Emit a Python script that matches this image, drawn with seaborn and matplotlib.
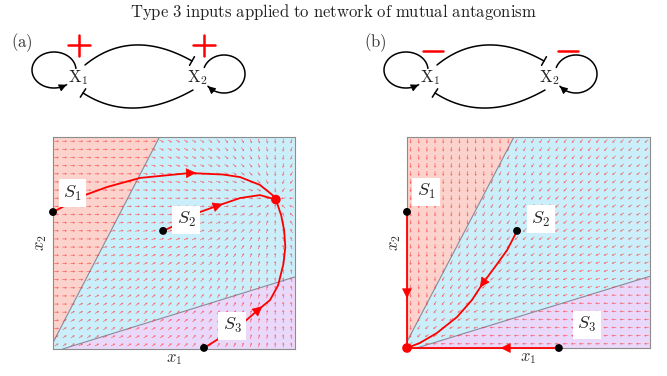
import numpy as np
import matplotlib
matplotlib.use('Agg')
import matplotlib.pyplot as plt
import seaborn as sns
from matplotlib.patches import Polygon

sns.set_theme(style='white')
plt.rcParams['mathtext.fontset'] = 'cm'
plt.rcParams['font.family'] = ['DejaVu Serif']

# ---------------- data ----------------
title = r'$\mathrm{Type\ 3\ inputs\ applied\ to\ network\ of\ mutual\ antagonism}$'
panel_tags = [r'$\mathrm{(a)}$', r'$\mathrm{(b)}$']
node_labels = [r'$\mathrm{X}_1$', r'$\mathrm{X}_2$']
start_labels = [r'$S_1$', r'$S_2$', r'$S_3$']

fp_a = [0.921, 0.705]   # stable point, panel (a)
fp_b = [0.0, 0.0]       # stable point, panel (b)

bnd1_x = [0.0, 0.44]
bnd1_y = [0.03, 1.0]
bnd2_x = [0.04, 1.0]
bnd2_y = [0.0, 0.34]

# trajectories panel (a)
s1a_x = [0.0, 0.132, 0.223, 0.36, 0.566, 0.702, 0.773, 0.855, 0.905, 0.921]
s1a_y = [0.646, 0.726, 0.764, 0.807, 0.830, 0.823, 0.811, 0.774, 0.728, 0.705]
s2a_x = [0.455, 0.525, 0.607, 0.678, 0.773, 0.855, 0.921]
s2a_y = [0.557, 0.594, 0.646, 0.675, 0.712, 0.726, 0.705]
s3a_x = [0.624, 0.69, 0.80, 0.847, 0.897, 0.930, 0.952, 0.960, 0.955, 0.943, 0.921]
s3a_y = [0.005, 0.052, 0.137, 0.184, 0.231, 0.300, 0.400, 0.481, 0.561, 0.630, 0.705]
arrows_a = [4, 3, 3]

# trajectories panel (b)
s1b_x = [0.0, 0.0, 0.0]
s1b_y = [0.645, 0.26, 0.0]
s2b_x = [0.453, 0.412, 0.362, 0.313, 0.267, 0.206, 0.123, 0.053, 0.0]
s2b_y = [0.555, 0.464, 0.384, 0.308, 0.227, 0.147, 0.071, 0.024, 0.0]
s3b_x = [0.625, 0.41, 0.0]
s3b_y = [0.0, 0.0, 0.0]
arrows_b = [1, 3, 1]

lab_a_x = [0.08, 0.55, 0.74]
lab_a_y = [0.735, 0.61, 0.11]
lab_b_x = [0.078, 0.55, 0.74]
lab_b_y = [0.74, 0.61, 0.11]

c_red, c_blue, c_purple = '#fcd2cc', '#cbeffa', '#ead8fa'

# ---------------- figure ----------------
W, H = 667, 376
fig = plt.figure(figsize=(W / 100, H / 100), dpi=100)
axA = fig.add_axes([53 / W, 27 / H, 242 / W, 212 / H])
axB = fig.add_axes([407 / W, 28 / H, 243 / W, 211 / H])


def above1(x, y):
    return y > bnd1_y[0] + (x - bnd1_x[0]) * (bnd1_y[1] - bnd1_y[0]) / (bnd1_x[1] - bnd1_x[0])


def below2(x, y):
    return y < bnd2_y[0] + (x - bnd2_x[0]) * (bnd2_y[1] - bnd2_y[0]) / (bnd2_x[1] - bnd2_x[0])


def field_a(X, Y):
    U = fp_a[0] - X
    V = fp_a[1] - Y
    red = above1(X, Y)
    pur = below2(X, Y)
    V = np.where(red, 0.0, V)
    U = np.where(red, np.abs(U) + 0.05, U)
    V = np.where(pur, 0.6 * V, V)
    return U, V


def field_b(X, Y):
    U = fp_b[0] - X
    V = fp_b[1] - Y
    red = above1(X, Y)
    pur = below2(X, Y)
    U = np.where(red, 0.0, U)
    V = np.where(red, -1.0, V)
    U = np.where(pur, -1.0, U)
    V = np.where(pur, 0.0, V)
    return U, V


def setup(ax, field, wpx, hpx):
    ax.set_xlim(0, 1)
    ax.set_ylim(0, 1)
    ax.set_xticks([])
    ax.set_yticks([])
    for s in ax.spines.values():
        s.set_color('#8c8c8c')
        s.set_linewidth(0.8)
    ax.add_patch(Polygon([[0, 0], [0, 1], [1, 1], [1, 0]], closed=True, fc=c_blue, ec='none', zorder=0))
    ax.add_patch(Polygon([[bnd1_x[0], bnd1_y[0]], [bnd1_x[1], bnd1_y[1]], [0, 1]], closed=True,
                         fc=c_red, ec='none', zorder=0.5))
    ax.add_patch(Polygon([[bnd2_x[0], bnd2_y[0]], [bnd2_x[1], bnd2_y[1]], [1, 0]], closed=True,
                         fc=c_purple, ec='none', zorder=0.5))
    ax.plot(bnd1_x, bnd1_y, color='#8a8a9a', lw=0.8, zorder=1)
    ax.plot(bnd2_x, bnd2_y, color='#8a8a9a', lw=0.8, zorder=1)
    gx = np.linspace(0.015, 0.985, 30)
    gy = np.linspace(0.02, 0.98, 26)
    X, Y = np.meshgrid(gx, gy)
    U, V = field(X, Y)
    Up, Vp = U * wpx, V * hpx
    n = np.hypot(Up, Vp)
    n[n == 0] = 1
    L = 4.8
    U2 = Up / n * L / wpx
    V2 = Vp / n * L / hpx
    ax.quiver(X, Y, U2, V2, angles='xy', scale_units='xy', scale=1, pivot='mid',
              color='#ff2a2a', alpha=0.7, units='dots', width=0.65,
              headwidth=3.5, headlength=3.5, headaxislength=3, zorder=2)
    ax.set_xlabel(r'$x_1$', fontsize=12, labelpad=1, color='#333333')
    ax.set_ylabel(r'$x_2$', fontsize=12, labelpad=3, color='#333333')


def traj(ax, xs, ys, k):
    sns.lineplot(x=xs, y=ys, sort=False, estimator=None, color='red', lw=1.3, ax=ax, zorder=4)
    ax.lines[-1].set_clip_on(False)
    x0, y0 = xs[k - 1], ys[k - 1]
    x1, y1 = xs[k], ys[k]
    x2, y2 = xs[k + 1], ys[k + 1]
    dx, dy = x2 - x0, y2 - y0
    nrm = np.hypot(dx, dy)
    dx, dy = dx / nrm, dy / nrm
    ax.annotate('', xy=(x1 + 0.025 * dx, y1 + 0.025 * dy), xytext=(x1 - 0.02 * dx, y1 - 0.02 * dy),
                arrowprops=dict(arrowstyle='-|>', color='red', mutation_scale=16, lw=0.5,
                                shrinkA=0, shrinkB=0), zorder=5, annotation_clip=False)


setup(axA, field_a, 242, 212)
setup(axB, field_b, 243, 211)

for xs, ys, k in zip([s1a_x, s2a_x, s3a_x], [s1a_y, s2a_y, s3a_y], arrows_a):
    traj(axA, xs, ys, k)
for xs, ys, k in zip([s1b_x, s2b_x, s3b_x], [s1b_y, s2b_y, s3b_y], arrows_b):
    traj(axB, xs, ys, k)

for ax, sx, sy, fp, lx, ly in [
        (axA, [s1a_x[0], s2a_x[0], s3a_x[0]], [s1a_y[0], s2a_y[0], s3a_y[0]], fp_a, lab_a_x, lab_a_y),
        (axB, [s1b_x[0], s2b_x[0], s3b_x[0]], [s1b_y[0], s2b_y[0], s3b_y[0]], fp_b, lab_b_x, lab_b_y)]:
    sns.scatterplot(x=sx, y=sy, color='black', s=32, edgecolor='none', ax=ax, zorder=6)
    sns.scatterplot(x=[fp[0]], y=[fp[1]], color='red', s=48, edgecolor='none', ax=ax, zorder=7)
    for c in ax.collections:
        c.set_clip_on(False)
    for t, x, y in zip(start_labels, lx, ly):
        ax.text(x, y, t, fontsize=13, ha='center', va='center', zorder=8,
                bbox=dict(boxstyle='square,pad=0.25', fc='white', ec='none'))
    ax.set_xlim(0, 1)
    ax.set_ylim(0, 1)

# ---------------- overlay: title and network sketches ----------------
ax0 = fig.add_axes([0, 0, 1, 1])
ax0.set_xlim(0, W)
ax0.set_ylim(H, 0)
ax0.axis('off')
ax0.patch.set_alpha(0)

ax0.text(W / 2, 12, title, fontsize=12, ha='center', va='center', color='#222222')
ax0.text(22, 43, panel_tags[0], fontsize=12, ha='center', va='center', color='#333333')
ax0.text(375, 43, panel_tags[1], fontsize=12, ha='center', va='center', color='#333333')


def bezier(P0, C, P2):
    t = np.linspace(0, 1, 60)[:, None]
    return (1 - t) ** 2 * np.array(P0) + 2 * (1 - t) * t * np.array(C) + t ** 2 * np.array(P2)


def tbar(ax, P, C, half=5):
    d = np.array(P) - np.array(C)
    d = d / np.hypot(*d)
    p = np.array([-d[1], d[0]])
    a = np.array(P) + p * half
    b = np.array(P) - p * half
    ax.plot([a[0], b[0]], [a[1], b[1]], color='black', lw=1.1)


def loop(ax, cx, cy, rx, ry, a0, a1):
    th = np.radians(np.linspace(a0, a1, 120))
    x = cx + rx * np.cos(th)
    y = cy - ry * np.sin(th)
    ax.plot(x, y, color='black', lw=1.1)
    ax.annotate('', xy=(x[-1], y[-1]), xytext=(x[-6], y[-6]),
                arrowprops=dict(arrowstyle='-|>', color='black', mutation_scale=11, lw=0.8,
                                shrinkA=0, shrinkB=0))


def network(ax, dx, positive):
    ax.text(78 + dx, 78, node_labels[0], fontsize=12, ha='center', va='center', color='#222222')
    ax.text(197 + dx, 78, node_labels[1], fontsize=12, ha='center', va='center', color='#222222')
    up = bezier((85 + dx, 65), (131.5 + dx, 27), (192 + dx, 61))
    ax.plot(up[:, 0], up[:, 1], color='black', lw=1.1)
    tbar(ax, (192 + dx, 61), (131.5 + dx, 27))
    lo = bezier((193 + dx, 90), (132 + dx, 124.5), (83 + dx, 93))
    ax.plot(lo[:, 0], lo[:, 1], color='black', lw=1.1)
    tbar(ax, (83 + dx, 93), (132 + dx, 124.5))
    loop(ax, 54 + dx, 70, 22, 18, 5, 305)
    loop(ax, 224 + dx, 74, 21, 19, 160, -140)
    if positive:
        for cx in (79 + dx, 204 + dx):
            ax.plot([cx - 11, cx + 11], [45, 45], color='red', lw=1.8)
            ax.plot([cx, cx], [35, 56], color='red', lw=1.8)
    else:
        for cx in (433, 568):
            ax.plot([cx - 10, cx + 10], [51, 51], color='red', lw=1.8)


network(ax0, 0, True)
network(ax0, 352, False)

fig.savefig('out.png', dpi=100)
